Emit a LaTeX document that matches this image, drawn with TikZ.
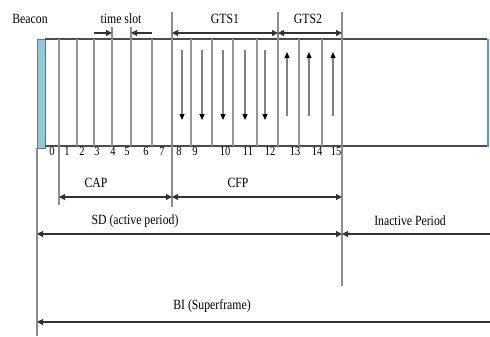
\documentclass[tikz,border=0pt]{standalone}
\usepackage{fontspec}
\setmainfont{Liberation Serif}
\usetikzlibrary{arrows.meta}
\definecolor{beaconblue}{RGB}{110,190,212}
\definecolor{beacondark}{RGB}{64,164,194}
\tikzstyle{beacon}=[draw=black!55, line width=0.6pt, left color=beaconblue!80, middle color=beacondark, right color=beaconblue!80]
\tikzstyle{frame}=[draw=black!70, line width=1.2pt]
\tikzstyle{slot}=[draw=black!42, line width=1.1pt]
\tikzstyle{marker}=[draw=black!45, line width=1.2pt]
\tikzstyle{span}=[draw=black!80, line width=1.1pt, {Triangle[length=6bp,width=6bp]}-{Triangle[length=6bp,width=6bp]}]
\tikzstyle{halfspan}=[draw=black!80, line width=1.1pt, -{Triangle[length=6bp,width=6bp]}]
\tikzstyle{flow}=[draw=black!50, line width=1.2pt, -{Triangle[length=6bp,width=5bp,color=black]}]
\tikzstyle{txt}=[inner sep=0pt, yscale=1.2, font=\fontsize{11.8}{13}\selectfont]
\tikzstyle{num}=[inner sep=0pt, yscale=1.2, font=\fontsize{10.5}{11}\selectfont]
\begin{document}
\begin{tikzpicture}[x=1bp, y=-1bp]
\useasboundingbox (0,0) rectangle (490,336);
% superframe slots
\draw[beacon] (37,39) rectangle (45,148);
\draw[frame] (45,39) -- (487,39) (45,146) -- (487,146);
\draw[draw=beacondark, line width=2pt] (488,39) -- (488,147);
\foreach \x in {59,77,94,112,131,152,172,191,212,233,257,278,299,322,342}
    \draw[slot] (\x,39) -- (\x,146);
\foreach \n/\x in {0/52,1/67,2/82,3/97,4/113,5/127,6/146,7/162,8/179,9/195,10/225,11/248,12/270,13/295,14/317,15/336}
    \node[num] (n\n) at (\x,151) {\n};
% GTS directions
\foreach \x in {182,202,223,245,265}
    \draw[flow] (\x,50) -- (\x,120);
\foreach \x in {287,309,333}
    \draw[flow] (\x,116) -- (\x,52);
% boundary lines
\coordinate (b0) at (37,148);  \coordinate (b0e) at (37,336);
\coordinate (b1) at (59,146);  \coordinate (b1e) at (59,205);
\coordinate (ts1) at (112,27); \coordinate (ts2) at (131,27);
\coordinate (g0) at (172,12);  \coordinate (g0e) at (172,207);
\coordinate (g1) at (278,12);  \coordinate (g2) at (342,12);
\coordinate (g2e) at (342,286);
\coordinate (r) at (490,0);
\draw[marker] (b0) -- (b0e) (b1) -- (b1e) (g0) -- (g0e) (g2) -- (g2e);
\draw[marker] (ts1) -- (ts1 |- 0,39) (ts2) -- (ts2 |- 0,39) (g1) -- (g1 |- 0,39);
% labels
\node[txt] (beacon) at (30,19) {Beacon};
\node[txt] (slotname) at (121,19) {time slot};
\node[txt] (gts1) at (225,19) {GTS1};
\node[txt] (gts2) at (308,19) {GTS2};
\node[txt] (cap) at (96,183) {CAP};
\node[txt] (cfp) at (238,183) {CFP};
\node[txt] (sd) at (135,221) {SD (active period)};
\node[txt] (inactive) at (410,221) {Inactive Period};
\node[txt] (bi) at (212,306) {BI (Superframe)};
% spans
\coordinate (yts) at (0,33);
\coordinate (ycap) at (0,197);
\coordinate (ysd) at (0,234);
\coordinate (ybi) at (0,322);
\draw[halfspan] (94,33) -- (ts1 |- yts);
\draw[halfspan] (152,33) -- (ts2 |- yts);
\draw[span] (g0 |- yts) -- (g1 |- yts);
\draw[span] (g1 |- yts) -- (g2 |- yts);
\draw[span] (b1 |- ycap) -- (g0 |- ycap);
\draw[span] (g0 |- ycap) -- (g2 |- ycap);
\draw[span] (b0 |- ysd) -- (g2 |- ysd);
\draw[halfspan] (r |- ysd) -- (g2 |- ysd);
\draw[halfspan] (r |- ybi) -- (b0 |- ybi);
\end{tikzpicture}
\end{document}
